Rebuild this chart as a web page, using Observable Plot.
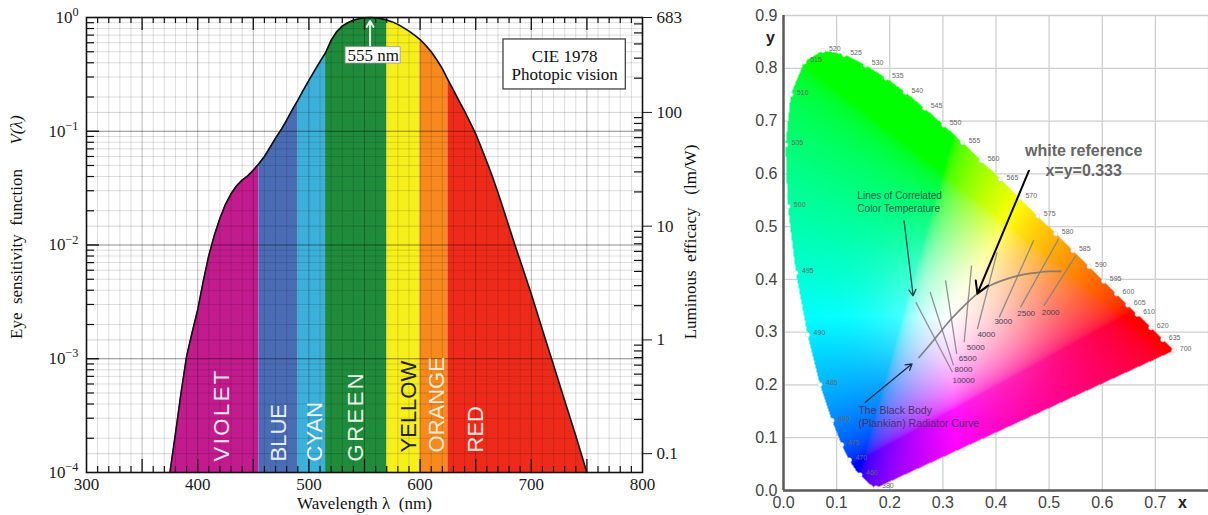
<!DOCTYPE html>
<html><head><meta charset="utf-8">
<script src="https://cdn.jsdelivr.net/npm/d3@7"></script>
<script src="https://cdn.jsdelivr.net/npm/@observablehq/plot@0.6"></script>
<style>
html,body{margin:0;padding:0;background:#fff;}
#wrap{display:flex;width:1208px;height:515px;overflow:hidden;background:#fff;}
#wrap svg{display:block;flex:none;}
</style></head><body><div id="wrap"></div>
<script>
// ---------------- LEFT PANEL DATA ----------------
const wavelengths = [375,380,385,390,395,400,405,410,415,420,425,430,435,440,445,450,455,460,465,470,475,480,485,490,495,500,505,510,515,520,525,530,535,540,545,550,555,560,565,570,575,580,585,590,595,600,605,610,615,620,625,630,635,640,645,650,655,660,665,670,675,680,685,690,695,700,710,720,730,740,750];
const sensitivity = [0.0001,0.00022,0.0005,0.00105,0.0017,0.0027,0.0048,0.0081,0.0122,0.0172,0.0228,0.0282,0.0332,0.0372,0.0405,0.0455,0.0518,0.06,0.072,0.087,0.103,0.125,0.154,0.187,0.23,0.28,0.34,0.41,0.49,0.63,0.75,0.84,0.9,0.945,0.975,0.995,1.0,0.995,0.978,0.953,0.915,0.87,0.815,0.76,0.7,0.64,0.57,0.5,0.425,0.355,0.285,0.23,0.185,0.15,0.12,0.095,0.072,0.054,0.04,0.029,0.0205,0.0145,0.0102,0.0073,0.0052,0.0037,0.0018,0.00088,0.00043,0.00021,0.0001];
const bandNames  = ["VIOLET","BLUE","CYAN","GREEN","YELLOW","ORANGE","RED"];
const bandStarts = [375,455,490,515,570,600,625];
const bandEnds   = [455,490,515,570,600,625,750];
const bandColors = ["#c11b8d","#4a6cb4","#3cb0da","#1f8b3b","#f6ef1c","#f7891d","#ee2b1b"];
const bandTextColors = ["#f4e6f0","#e8eef8","#eaf6fb","#e6f3e8","#222222","#fbe9d8","#fbe4e0"];
const bandLabelX = [422,473,505,542,590,615,650];
const bandLabelY = [1.25e-4,1.25e-4,1.25e-4,1.25e-4,1.5e-4,1.5e-4,1.5e-4];
const xTickValues = [300,400,500,600,700,800];
const leftTickValues = [1e-4,1e-3,1e-2,1e-1,1];
const efficacyTicks = [683,100,10,1,0.1];
const peakEfficacy = 683;
const peakWavelength = 555;

// ---------------- RIGHT PANEL DATA ----------------
const locusNm = [380,420,430,440,450,455,460,465,470,475,480,485,490,495,500,505,510,515,520,525,530,535,540,545,550,555,560,565,570,575,580,585,590,595,600,605,610,615,620,625,630,635,640,650,660,680,700];
const locusX = [0.1741,0.1714,0.1689,0.1644,0.1566,0.1510,0.1440,0.1355,0.1241,0.1096,0.0913,0.0687,0.0454,0.0235,0.0082,0.0039,0.0139,0.0389,0.0743,0.1142,0.1547,0.1929,0.2296,0.2658,0.3016,0.3373,0.3731,0.4087,0.4441,0.4788,0.5125,0.5448,0.5752,0.6029,0.6270,0.6482,0.6658,0.6801,0.6915,0.7006,0.7079,0.7140,0.7190,0.7260,0.7300,0.7334,0.7347];
const locusY = [0.0050,0.0051,0.0069,0.0109,0.0177,0.0227,0.0297,0.0399,0.0578,0.0868,0.1327,0.2007,0.2950,0.4127,0.5384,0.6548,0.7502,0.8120,0.8338,0.8262,0.8059,0.7816,0.7543,0.7243,0.6923,0.6589,0.6245,0.5896,0.5547,0.5202,0.4866,0.4544,0.4242,0.3965,0.3725,0.3514,0.3340,0.3197,0.3083,0.2993,0.2920,0.2859,0.2809,0.2740,0.2700,0.2666,0.2653];
const labeledNm = [380,460,470,475,480,485,490,495,500,505,510,515,520,525,530,535,540,545,550,555,560,565,570,575,580,585,590,595,600,605,610,620,635,700];
const planckX = [0.255,0.283,0.308,0.335,0.365,0.392,0.421,0.450,0.478,0.500,0.522];
const planckY = [0.252,0.285,0.316,0.345,0.373,0.390,0.401,0.409,0.413,0.415,0.415];
const cctLabels = ["10000","8000","6500","5000","4000","3000","2500","2000"];
const cctLowX  = [0.318,0.320,0.326,0.340,0.365,0.406,0.446,0.490];
const cctLowY  = [0.224,0.237,0.259,0.281,0.306,0.328,0.347,0.350];
const cctHighX = [0.249,0.276,0.305,0.354,0.402,0.471,0.518,0.550];
const cctHighY = [0.357,0.376,0.398,0.426,0.451,0.474,0.477,0.445];
const cctLabelX = [0.318,0.322,0.330,0.345,0.365,0.397,0.440,0.486];
const cctLabelY = [0.208,0.229,0.251,0.271,0.296,0.321,0.336,0.338];
const whiteRef = [0.333, 0.333];
const gridXValues = [0.1,0.2,0.3,0.4,0.5,0.6,0.7,0.8];
const gridYValues = [0.1,0.2,0.3,0.4,0.5,0.6,0.7,0.8,0.9];
const chartXTicks = [0,0.1,0.2,0.3,0.4,0.5,0.6,0.7];
const chartYTicks = [0,0.1,0.2,0.3,0.4,0.5,0.6,0.7,0.8,0.9];

const SERIF = "'Liberation Serif','Times New Roman',serif";
const SANS = "'Liberation Sans',Arial,sans-serif";
const H = 515;

// ================= LEFT CHART =================
const LW = 730, LmL = 86, LmR = 88, LmT = 17, LmB = 43;
const LiW = LW - LmL - LmR, LiH = H - LmT - LmB;

const curve = wavelengths.map((w, i) => ({w, v: sensitivity[i]}));
const bandPts = [];
bandNames.forEach((name, b) => {
  curve.filter(d => d.w >= bandStarts[b] && d.w <= bandEnds[b])
       .forEach(d => bandPts.push({w: d.w, v: d.v, band: name, color: bandColors[b]}));
});
const bandLabels = bandNames.map((name, b) => ({name, x: bandLabelX[b], y: bandLabelY[b], c: bandTextColors[b]}));

const nmMinor = d3.range(310, 800, 10).filter(d => d % 50 !== 0);
const nmMajor = d3.range(350, 800, 50);
const decadesInner = [1e-3, 1e-2, 1e-1];
const yMinor = [];
for (let e = -4; e < 0; e++) for (let k = 2; k <= 9; k++) yMinor.push(k * Math.pow(10, e));
const rightMajor = efficacyTicks.map(v => v / peakEfficacy);
const rightMinor = [];
for (let e = -1; e <= 2; e++) for (let k = 2; k <= 9; k++) {
  const v = k * Math.pow(10, e);
  if (v < peakEfficacy && v > 0.0683) rightMinor.push(v / peakEfficacy);
}

const leftPlot = Plot.plot({
  width: LW, height: H,
  marginLeft: LmL, marginRight: LmR, marginTop: LmT, marginBottom: LmB,
  x: {domain: [300, 800]},
  y: {type: "log", domain: [1e-4, 1]},
  color: {type: "identity"},
  style: {fontFamily: SERIF, fontSize: "17px", color: "#1a1a1a", background: "#fff", overflow: "visible"},
  marks: [
    Plot.areaY(bandPts, {x: "w", y1: 1e-4, y2: "v", z: "band", fill: "color"}),
    // grid
    Plot.ruleX(nmMinor, {stroke: "#000", strokeOpacity: 0.17, strokeWidth: 0.8}),
    Plot.ruleX(nmMajor, {stroke: "#000", strokeOpacity: 0.3, strokeWidth: 0.9}),
    Plot.ruleY(yMinor, {stroke: "#000", strokeOpacity: 0.17, strokeWidth: 0.8}),
    Plot.ruleY(rightMajor.slice(1), {stroke: "#000", strokeOpacity: 0.22, strokeWidth: 0.8}),
    Plot.ruleY(decadesInner, {stroke: "#000", strokeOpacity: 0.45, strokeWidth: 1}),
    // curve
    Plot.line(curve, {x: "w", y: "v", stroke: "#111", strokeWidth: 1.6}),
    // inward ticks
    Plot.ruleX(nmMinor, {insetTop: LiH - 6, stroke: "#111", strokeWidth: 1.2}),
    Plot.ruleX(nmMajor, {insetTop: LiH - 13, stroke: "#111", strokeWidth: 1.3}),
    Plot.ruleX(nmMinor, {insetBottom: LiH - 6, stroke: "#111", strokeWidth: 1.2}),
    Plot.ruleX(nmMajor, {insetBottom: LiH - 13, stroke: "#111", strokeWidth: 1.3}),
    Plot.ruleY(yMinor, {insetRight: LiW - 8, stroke: "#111", strokeWidth: 1.2}),
    Plot.ruleY(decadesInner, {insetRight: LiW - 13, stroke: "#111", strokeWidth: 1.4}),
    Plot.ruleY(rightMinor, {insetLeft: LiW - 8, stroke: "#111", strokeWidth: 1.2}),
    // band labels
    Plot.text(bandLabels, {x: "x", y: "y", text: "name", fill: "c", rotate: -90, textAnchor: "start", lineAnchor: "middle",
      fontFamily: SANS, fontSize: 22}),
    // 555 nm annotation
    Plot.arrow([0], {x1: peakWavelength, x2: peakWavelength, y1: 0.56, y2: 0.93, stroke: "#e6f2e0", strokeWidth: 2, headLength: 5}),
    Plot.rect([0], {x1: 533, x2: 582.5, y1: 0.394, y2: 0.548, fill: "#fff", stroke: "#9a9a9a", strokeWidth: 0.8}),
    Plot.text([peakWavelength + " nm"], {x: 557.8, y: 0.465, fontSize: 17, fill: "#111"}),
    // CIE box
    Plot.rect([0], {x1: 675, x2: 785, y1: 0.233, y2: 0.641, fill: "#fff", stroke: "#444", strokeWidth: 1.3}),
    Plot.text(["CIE 1978"], {x: 730, y: 0.452, fontSize: 17, fill: "#111"}),
    Plot.text(["Photopic vision"], {x: 730, y: 0.313, fontSize: 17, fill: "#111"}),
    Plot.frame({stroke: "#111", strokeWidth: 1.6}),
    // axes
    Plot.axisX({ticks: xTickValues, tickSize: 0, tickPadding: 5, label: null, fontSize: 17}),
    Plot.axisY({ticks: leftTickValues, tickSize: 0, tickPadding: 8, label: null, fontSize: 17,
      tickFormat: d => "10^" + Math.round(Math.log10(d))}),
    Plot.axisY({anchor: "right", ticks: rightMajor, tickSize: 9, tickPadding: 5, label: null, fontSize: 17,
      tickFormat: d => String(+(d * peakEfficacy).toPrecision(3))}),
    // axis titles
    Plot.text(["Wavelength λ\u00a0\u00a0(nm)"], {frameAnchor: "bottom", dy: 31, textAnchor: "middle", lineAnchor: "middle", fontSize: 17, fill: "#111"}),
    Plot.text(["Eye\u00a0\u00a0sensitivity\u00a0\u00a0function"], {frameAnchor: "left", dx: -70, dy: 9, rotate: -90, textAnchor: "middle", lineAnchor: "middle", fontSize: 17, fill: "#111"}),
    Plot.text(["V(λ)"], {frameAnchor: "left", dx: -70, dy: -115, rotate: -90, textAnchor: "middle", lineAnchor: "middle", fontSize: 17, fontStyle: "italic", fill: "#111"}),
    Plot.text(["Luminous\u00a0\u00a0efficacy\u00a0\u00a0\u00a0(lm/W)"], {frameAnchor: "right", dx: 48, dy: -3, rotate: -90, textAnchor: "middle", lineAnchor: "middle", fontSize: 17, fill: "#111"})
  ]
});

// superscript exponents, band label spacing
leftPlot.querySelectorAll("text").forEach(t => {
  const m = /^10\^(-?\d+)$/.exec(t.textContent);
  if (m) {
    t.textContent = "10";
    const ts = document.createElementNS("http://www.w3.org/2000/svg", "tspan");
    ts.setAttribute("dy", "-0.55em");
    ts.setAttribute("font-size", "0.72em");
    ts.textContent = m[1].replace("-", "\u2212");
    t.appendChild(ts);
  }
  if (t.textContent === "VIOLET" || t.textContent === "GREEN") t.setAttribute("letter-spacing", "2.5px");
});

// ================= RIGHT CHART =================
const RW = 478;
const locus = locusNm.map((nm, i) => ({nm, x: locusX[i], y: locusY[i]}));
const poly = locus.map(d => [d.x, d.y]);
const labeled = locus.filter(d => labeledNm.includes(d.nm));
const planck = planckX.map((x, i) => ({x, y: planckY[i]}));
const cct = cctLabels.map((label, i) => ({label, x1: cctLowX[i], y1: cctLowY[i], x2: cctHighX[i], y2: cctHighY[i], lx: cctLabelX[i], ly: cctLabelY[i]}));

const gam = v => v <= 0.0031308 ? 12.92 * v : 1.055 * Math.pow(v, 1 / 2.4) - 0.055;
function chromaColor(x, y) {
  if (y <= 0 || !d3.polygonContains(poly, [x, y])) return "transparent";
  const X = x / y, Y = 1, Z = (1 - x - y) / y;
  let r = Math.max(0, 3.2406 * X - 1.5372 * Y - 0.4986 * Z);
  let g = Math.max(0, -0.9689 * X + 1.8758 * Y + 0.0415 * Z);
  let b = Math.max(0, 0.0557 * X - 0.2040 * Y + 1.0570 * Z);
  const m = Math.max(r, g, b) || 1;
  r = gam(r / m); g = gam(g / m); b = gam(b / m);
  // lighten smoothly toward the white point
  const dx = x - whiteRef[0], dy = y - whiteRef[1];
  const t = 0.55 * Math.exp(-(dx * dx + dy * dy) / (0.13 * 0.13));
  r = r + (1 - r) * t; g = g + (1 - g) * t; b = b + (1 - b) * t;
  return `rgb(${Math.round(255 * r)},${Math.round(255 * g)},${Math.round(255 * b)})`;
}
function insideOpacity(x, y) { return d3.polygonContains(poly, [x, y]) ? 1 : 0; }

let fillMark;
if (typeof Plot.raster === "function") {
  fillMark = Plot.raster({x1: 0, x2: 0.8, y1: 0, y2: 0.9, pixelSize: 1, fill: chromaColor, fillOpacity: insideOpacity, imageRendering: "auto"});
} else {
  const cells = [];
  const s = 0.004;
  for (let x = 0; x < 0.76; x += s) for (let y = 0; y < 0.86; y += s) {
    const cx = x + s / 2, cy = y + s / 2;
    if (d3.polygonContains(poly, [cx, cy])) cells.push({x1: x, x2: x + s, y1: y, y2: y + s, c: chromaColor(cx, cy)});
  }
  fillMark = Plot.rect(cells, {x1: "x1", x2: "x2", y1: "y1", y2: "y2", fill: "c"});
}

const rightPlot = Plot.plot({
  width: RW, height: H,
  marginLeft: 53, marginRight: 0, marginTop: 15, marginBottom: 25,
  x: {domain: [0, 0.8]},
  y: {domain: [0, 0.9]},
  color: {type: "identity"},
  opacity: {type: "identity"},
  style: {fontFamily: SANS, fontSize: "16px", color: "#444", background: "#fff", overflow: "visible"},
  marks: [
    Plot.ruleX(gridXValues, {stroke: "#cfcfcf", strokeWidth: 1.3}),
    Plot.ruleY(gridYValues, {stroke: "#cfcfcf", strokeWidth: 1.3}),
    fillMark,
    Plot.link(cct, {x1: "x1", y1: "y1", x2: "x2", y2: "y2", stroke: "#808080", strokeWidth: 1.3, strokeOpacity: 0.85}),
    Plot.line(planck, {x: "x", y: "y", curve: "natural", stroke: "#777", strokeWidth: 1.7, strokeOpacity: 0.9}),
    Plot.text(cct, {x: "lx", y: "ly", text: "label", textAnchor: "start", lineAnchor: "middle", fontSize: 8, fill: "#4a3a55"}),
    Plot.dot(labeled, {x: "x", y: "y", r: 2.2, fill: "#fff", stroke: "#d8d8d8", strokeWidth: 0.6}),
    Plot.text(labeled, {x: "x", y: "y", text: d => String(d.nm), dx: 6, dy: -2, textAnchor: "start", fontSize: 7, fill: "#666"}),
    // annotations
    Plot.arrow([0], {x1: 0.227, y1: 0.511, x2: 0.244, y2: 0.369, stroke: "#1f4a48", strokeWidth: 1.3, headLength: 8}),
    Plot.text(["Lines of Correlated"], {x: 0.139, y: 0.559, textAnchor: "start", fontSize: 10, fill: "#1d5a4c"}),
    Plot.text(["Color Temperature"], {x: 0.139, y: 0.534, textAnchor: "start", fontSize: 10, fill: "#1d5a4c"}),
    Plot.arrow([0], {x1: 0.154, y1: 0.167, x2: 0.242, y2: 0.240, stroke: "#1e2a44", strokeWidth: 1.3, headLength: 8}),
    Plot.text(["The Black Body"], {x: 0.141, y: 0.152, textAnchor: "start", fontSize: 10.5, fill: "#4a2f6a"}),
    Plot.text(["(Plankian) Radiator Curve"], {x: 0.141, y: 0.127, textAnchor: "start", fontSize: 10.5, fill: "#4a2f6a"}),
    Plot.arrow([0], {x1: 0.462, y1: 0.606, x2: 0.365, y2: 0.373, stroke: "#000", strokeWidth: 2, headLength: 10}),
    Plot.text(["white reference"], {x: 0.565, y: 0.644, fontSize: 16, fontWeight: "bold", fill: "#666"}),
    Plot.text(["x=y=0.333"], {x: 0.565, y: 0.606, fontSize: 16, fontWeight: "bold", fill: "#666"}),
    // axis lines
    Plot.ruleX([0], {stroke: "#5a5a5a", strokeWidth: 2.5}),
    Plot.ruleY([0], {stroke: "#5a5a5a", strokeWidth: 2.5}),
    Plot.axisX({ticks: chartXTicks, tickFormat: d => d.toFixed(1), tickSize: 0, tickPadding: 6, label: null, fontSize: 16, fill: "#444"}),
    Plot.axisY({ticks: chartYTicks, tickFormat: d => d.toFixed(1), tickSize: 0, tickPadding: 6, label: null, fontSize: 16, fill: "#444"}),
    Plot.text(["x"], {frameAnchor: "bottom-right", dx: -26, dy: 12, textAnchor: "middle", lineAnchor: "middle", fontSize: 16, fontWeight: "bold", fill: "#222"}),
    Plot.text(["y"], {frameAnchor: "top-left", dx: -13, dy: 22, textAnchor: "middle", lineAnchor: "middle", fontSize: 16, fontWeight: "bold", fill: "#222"})
  ]
});

const wrap = document.getElementById("wrap");
wrap.appendChild(leftPlot);
wrap.appendChild(rightPlot);
</script>
</body></html>
